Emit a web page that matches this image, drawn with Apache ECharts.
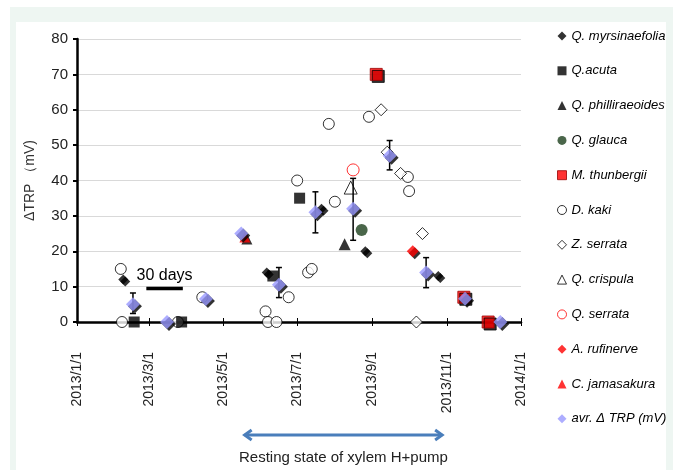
<!DOCTYPE html>
<html><head><meta charset="utf-8">
<script src="https://cdn.jsdelivr.net/npm/echarts@6/dist/echarts.min.js"></script>
<style>html,body{margin:0;padding:0;background:#fff}#c{width:675px;height:470px}</style>
</head><body><div id="c"></div>
<script>
// ---- data ----
const tickDates = ['2013-01-01','2013-03-01','2013-05-01','2013-07-01','2013-09-01','2013-11-01','2014-01-01'];
const tickLabels = ['2013/1/1','2013/3/1','2013/5/1','2013/7/1','2013/9/1','2013/11/1','2014/1/1'];
const yTicks = [0,10,20,30,40,50,60,70,80];

const myrsinaefoliaDates = ['2013-02-08','2013-06-06','2013-07-21','2013-08-26','2013-10-25'];
const myrsinaefoliaValues = [12,14,32,20,13];
const acutaDates = ['2013-02-17','2013-03-28','2013-06-11','2013-07-03'];
const acutaValues = [0,0,13,35];
const phillireoidesDates = ['2013-08-09'];
const phillireoidesValues = [22];
const glaucaDates = ['2013-08-23'];
const glaucaValues = [26];
const thunbergiiDates = ['2013-09-04','2013-11-15','2013-12-05'];
const thunbergiiValues = [70,7,0];
const kakiDates = ['2013-02-06','2013-02-07','2013-03-25','2013-04-14','2013-06-05','2013-06-07','2013-06-14','2013-06-24','2013-07-01','2013-07-10','2013-07-13','2013-07-27','2013-08-01','2013-08-29','2013-09-30','2013-10-01'];
const kakiValues = [15,0,0,7,3,0,0,7,40,14,15,56,34,58,41,37];
const zserrataDates = ['2013-09-08','2013-09-13','2013-09-24','2013-10-07','2013-10-12'];
const zserrataValues = [60,48,42,0,25];
const crispulaDates = ['2013-08-14'];
const crispulaValues = [38];
const qserrataDates = ['2013-08-16'];
const qserrataValues = [43];
const rufinerveDates = ['2013-10-04'];
const rufinerveValues = [20];
const jamasakuraDates = ['2013-05-19'];
const jamasakuraValues = [24];
const avrDates = ['2013-02-16','2013-03-16','2013-04-17','2013-05-16','2013-06-16','2013-07-16','2013-08-16','2013-09-15','2013-10-15','2013-11-16','2013-12-15'];
const avrValues = [5,0,6.5,25,10.5,31,32,47,14,6.6,0];
const errDates = ['2013-02-16','2013-06-16','2013-07-16','2013-08-16','2013-09-15','2013-10-15'];
const errLow = [2.4,6.9,25.2,23.1,43,9.7];
const errHigh = [8.2,15.4,36.8,40.6,51.3,18.2];

const scaleBarDates = ['2013-02-27','2013-03-29'];
const scaleBarValue = 9.5;
const scaleBarText = '30 days';
const restingDates = ['2013-05-18','2013-10-29'];
const restingText = 'Resting state of xylem H+pump';

// ---- helpers ----
const day = s => (Date.UTC(+s.slice(0,4), +s.slice(5,7)-1, +s.slice(8,10)) - Date.UTC(2013,0,1)) / 864e5;
const pts = (ds, vs) => ds.map((d,i) => [day(d), vs[i]]);
const tickDays = tickDates.map(day);
const FONT = '"Liberation Sans", Arial, sans-serif';
const shadow = {shadowColor:'#000', shadowBlur:0, shadowOffsetX:2, shadowOffsetY:2};

function sc(name, data, symbol, size, itemStyle, z) {
  return {name, type:'scatter', data, symbol, symbolSize:size, itemStyle, z: z||2,
          emphasis:{disabled:true}, animation:false};
}

const series = [
  sc('Q. myrsinaefolia', pts(myrsinaefoliaDates, myrsinaefoliaValues), 'diamond', 10, Object.assign({color:'#000'}, shadow)),
  sc('Q.acuta', pts(acutaDates, acutaValues), 'rect', 11, {color:'#000'}),
  sc('Q. philliraeoides', pts(phillireoidesDates, phillireoidesValues), 'triangle', 12, {color:'#000'}),
  sc('Q. glauca', pts(glaucaDates, glaucaValues), 'circle', 12, {color:'#1d401d'}),
  sc('M. thunbergii', pts(thunbergiiDates, thunbergiiValues), 'rect', 12, Object.assign({color:'#ff0000', borderColor:'#990000', borderWidth:1}, shadow)),
  sc('D. kaki', pts(kakiDates, kakiValues), 'circle', 11, {color:'#fff', borderColor:'#000', borderWidth:1}, 1),
  sc('Z. serrata', pts(zserrataDates, zserrataValues), 'diamond', 12, {color:'#fff', borderColor:'#000', borderWidth:1}, 1),
  sc('Q. crispula', pts(crispulaDates, crispulaValues), 'triangle', 13, {color:'#fff', borderColor:'#000', borderWidth:1}),
  sc('Q. serrata', pts(qserrataDates, qserrataValues), 'circle', 12, {color:'#fff', borderColor:'#ff0000', borderWidth:1}),
  sc('A. rufinerve', pts(rufinerveDates, rufinerveValues), 'diamond', 12, Object.assign({color:'#ff0000'}, shadow)),
  sc('C. jamasakura', pts(jamasakuraDates, jamasakuraValues), 'triangle', 11, Object.assign({color:'#ff0000'}, shadow)),
  sc('avr. Δ TRP (mV)', pts(avrDates, avrValues), 'diamond', 14, Object.assign({color:'#9999ff'}, shadow), 5),
  {
    name:'err', type:'custom', z:4, animation:false, silent:true,
    data: errDates.map((d,i) => [day(d), errLow[i], errHigh[i]]),
    renderItem: function(params, api) {
      const lo = api.coord([api.value(0), api.value(1)]);
      const hi = api.coord([api.value(0), api.value(2)]);
      const st = {stroke:'#000', lineWidth:1.5};
      return {type:'group', children:[
        {type:'line', shape:{x1:lo[0], y1:lo[1], x2:hi[0], y2:hi[1]}, style:st},
        {type:'line', shape:{x1:lo[0]-3, y1:lo[1], x2:lo[0]+3, y2:lo[1]}, style:st},
        {type:'line', shape:{x1:hi[0]-3, y1:hi[1], x2:hi[0]+3, y2:hi[1]}, style:st}
      ]};
    }
  },
  {
    name:'scale', type:'line', silent:true, animation:false, symbol:'none', z:3,
    data: scaleBarDates.map(d => [day(d), scaleBarValue]),
    lineStyle:{color:'#000', width:3.5}
  }
];

const legendNames = series.filter(s => s.type === 'scatter').map(s => s.name);

const chart = echarts.init(document.getElementById('c'), null, {renderer:'canvas'});
chart.setOption({
  backgroundColor:'#fff',
  animation:false,
  grid:{left:77, right:154, top:39, bottom:148},
  legend:{
    data:legendNames, orient:'vertical', left:552, top:24,
    itemWidth:9, itemHeight:9, itemGap:20.8,
    itemStyle:{borderWidth:1},
    textStyle:{fontStyle:'italic', fontSize:13, color:'#000', fontFamily:FONT, lineHeight:14},
    selectedMode:false
  },
  xAxis:[{
    type:'value', min:0, max:365,
    axisLine:{lineStyle:{color:'#000', width:2.5}},
    axisTick:{customValues:tickDays, length:4, lineStyle:{color:'#000', width:1}},
    axisLabel:{customValues:tickDays, rotate:90, margin:30, fontSize:14, color:'#222', fontFamily:FONT,
      formatter: v => tickLabels[tickDays.indexOf(v)]},
    splitLine:{show:false}
  },{
    type:'value', min:0, max:365, gridIndex:0, position:'bottom',
    axisLine:{show:false},
    axisTick:{inside:true, customValues:tickDays, length:4, lineStyle:{color:'#000', width:1}},
    axisLabel:{show:false}, splitLine:{show:false}
  }],
  yAxis:{
    type:'value', min:0, max:80, interval:10,
    name:'ΔTRP （mV)', nameLocation:'middle', nameGap:40,
    nameTextStyle:{fontSize:14, color:'#333', fontFamily:FONT},
    axisLine:{show:true, lineStyle:{color:'#000', width:2.5}},
    axisTick:{show:true, length:4, lineStyle:{color:'#000', width:2}},
    axisLabel:{fontSize:15, color:'#222', margin:9, fontFamily:FONT},
    splitLine:{lineStyle:{color:'#d9d9d9', width:1}}
  },
  series
});

// annotations placed through the axis scales
const sb0 = chart.convertToPixel({xAxisIndex:0, yAxisIndex:0}, [day(scaleBarDates[0]), scaleBarValue]);
const sb1 = chart.convertToPixel({xAxisIndex:0, yAxisIndex:0}, [day(scaleBarDates[1]), scaleBarValue]);
const ax1 = chart.convertToPixel({xAxisIndex:0}, day(restingDates[0]));
const ax2 = chart.convertToPixel({xAxisIndex:0}, day(restingDates[1]));
const ay = 435;
const arrowCol = '#4a7ebb';
chart.setOption({
  graphic:[
    {type:'rect', z:-100, shape:{x:10, y:7, width:663, height:470}, style:{fill:'#eef6f2'}, silent:true},
    {type:'rect', z:-99, shape:{x:16, y:22, width:650, height:460}, style:{fill:'#fff'}, silent:true},
    {type:'text', z:10, x:(sb0[0]+sb1[0])/2, y:sb0[1]-13, style:{text:scaleBarText, font:'16px ' + FONT, fill:'#000', align:'center', verticalAlign:'middle'}},
    {type:'line', z:10, shape:{x1:ax1+1, y1:ay, x2:ax2-1, y2:ay}, style:{stroke:arrowCol, lineWidth:3}},
    {type:'polyline', z:10, shape:{points:[[ax1+8, ay-5],[ax1+1, ay],[ax1+8, ay+5]]}, style:{stroke:arrowCol, lineWidth:3, fill:null}},
    {type:'polyline', z:10, shape:{points:[[ax2-8, ay-5],[ax2-1, ay],[ax2-8, ay+5]]}, style:{stroke:arrowCol, lineWidth:3, fill:null}},
    {type:'text', z:10, x:(ax1+ax2)/2, y:458, style:{text:restingText, font:'15px ' + FONT, fill:'#222', align:'center', verticalAlign:'middle'}}
  ]
});
</script></body></html>
